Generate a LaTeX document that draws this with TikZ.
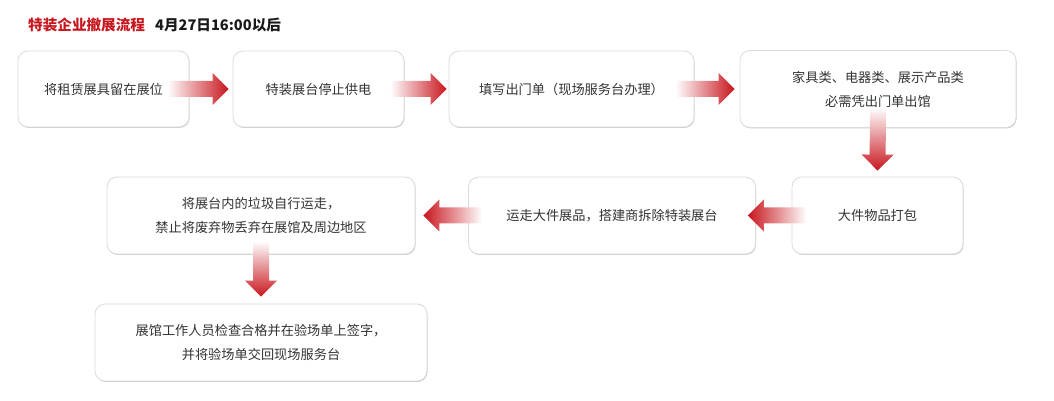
\documentclass[tikz,border=0pt]{standalone}
\usepackage{fontspec}
\setmainfont{Noto Sans CJK SC}
\usetikzlibrary{calc,shadows}
\definecolor{flowred}{RGB}{200,22,30}
\definecolor{textgray}{RGB}{51,51,51}
\begin{document}
\begin{tikzpicture}
[x=1pt,y=1pt,
box/.style = {draw=black!14, line width=0.8pt, fill=white, rounded corners=10pt, align=center, inner sep=0pt, text=textgray, font=\fontsize{13.2pt}{24pt}\selectfont, drop shadow={shadow xshift=0.6pt, shadow yshift=-0.9pt, opacity=0.2, fill=black}},
flow/.style = {to path={($(\tikztostart)!8pt!90:(\tikztotarget)$) -- ($(\tikztotarget)!16pt!(\tikztostart)!8pt!90:(\tikztotarget)$) -- ($(\tikztotarget)!16pt!(\tikztostart)!16pt!90:(\tikztotarget)$) -- (\tikztotarget) -- ($(\tikztotarget)!16pt!(\tikztostart)!16pt!-90:(\tikztotarget)$) -- ($(\tikztotarget)!16pt!(\tikztostart)!8pt!-90:(\tikztotarget)$) -- ($(\tikztostart)!8pt!-90:(\tikztotarget)$) -- cycle}},
head/.style = {anchor=west, inner sep=0pt, font=\fontsize{14.6pt}{16pt}\selectfont\bfseries},
]
\useasboundingbox (0,0) rectangle (1054,401);
\node (title) at (28,376) [head, text=flowred] {特装企业撤展流程};
\node (time) at (155,376) [head, text=black!90] {4月27日16:00以后};
\node (b1) at (103.5,312) [box, minimum width=171pt, minimum height=76pt] {将租赁展具留在展位};
\node (b2) at (318.5,312) [box, minimum width=171pt, minimum height=76pt] {特装展台停止供电};
\node (b3) at (571.5,312) [box, minimum width=245pt, minimum height=76pt] {填写出门单（现场服务台办理）};
\node (b4) at (878,312) [box, minimum width=276pt, minimum height=77pt] {家具类、电器类、展示产品类\\必需凭出门单出馆};
\node (b5) at (877.5,185.5) [box, minimum width=171pt, minimum height=77pt] {大件物品打包};
\node (b6) at (612,185.5) [box, minimum width=287pt, minimum height=77pt] {运走大件展品，搭建商拆除特装展台};
\node (b7) at (261,185.5) [box, minimum width=308pt, minimum height=77pt] {将展台内的垃圾自行运走，\\禁止将废弃物丢弃在展馆及周边地区};
\node (b8) at (261,58.5) [box, minimum width=332pt, minimum height=77pt] {展馆工作人员检查合格并在验场单上签字，\\并将验场单交回现场服务台};
\shade[flow, left color=white, middle color=flowred!30, right color=flowred] ([xshift=-22pt]b1.east) to ([xshift=-4pt]b2.west);
\shade[flow, left color=white, middle color=flowred!30, right color=flowred] ([xshift=-14pt]b2.east) to ([xshift=-2pt]b3.west);
\shade[flow, left color=white, middle color=flowred!30, right color=flowred] ([xshift=-19pt]b3.east) to ([xshift=-5pt]b4.west);
\shade[flow, top color=white, middle color=flowred!30, bottom color=flowred] ([yshift=20pt]b4.south) to ([yshift=6pt]b5.north);
\shade[flow, left color=flowred, middle color=flowred!30, right color=white] ([xshift=15pt]b5.west) to ([xshift=-8pt]b6.east);
\shade[flow, left color=flowred, middle color=flowred!30, right color=white] ([xshift=14pt]b6.west) to ([xshift=8pt]b7.east);
\shade[flow, top color=white, middle color=flowred!30, bottom color=flowred] ([yshift=13pt]b7.south) to ([yshift=7pt]b8.north);
\end{tikzpicture}
\end{document}
